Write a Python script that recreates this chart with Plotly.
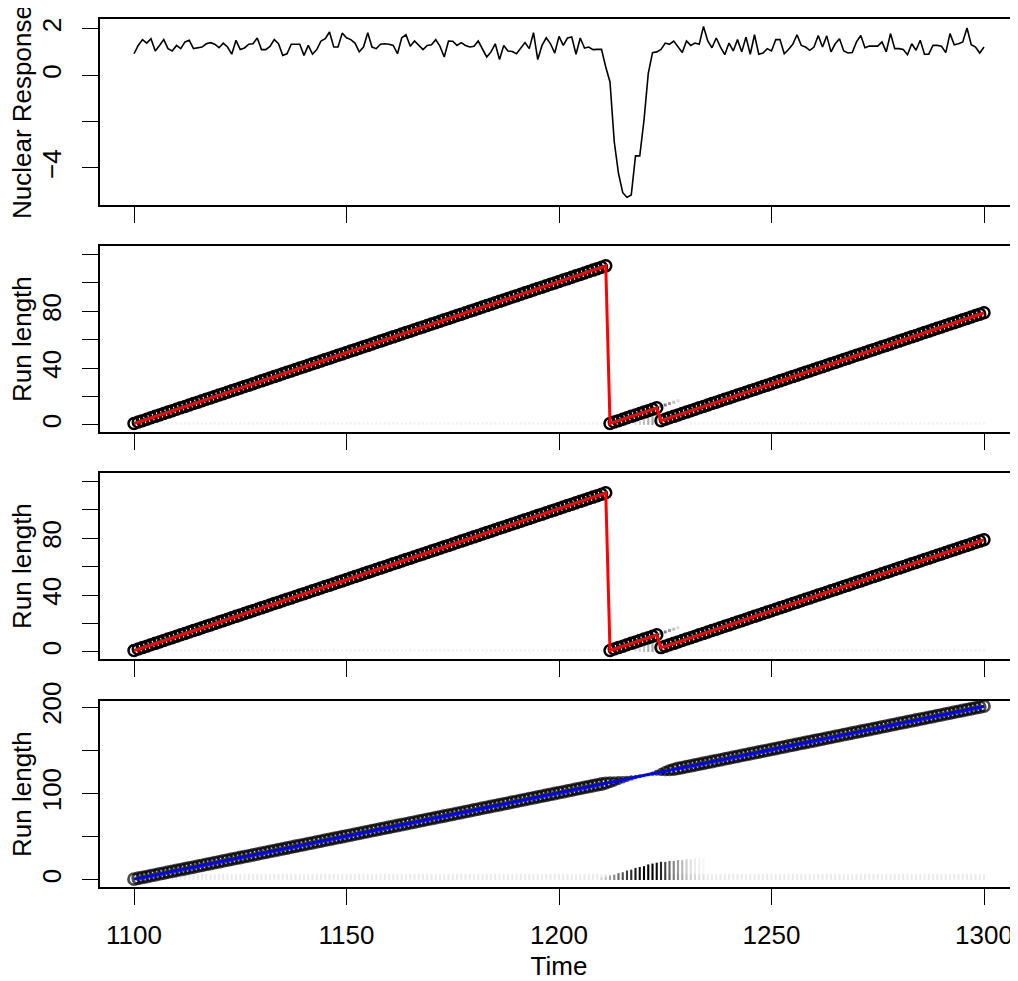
"""
Bayesian online changepoint view: observed series and run-length posterior.
Four stacked panels sharing the same time axis.
"""

import plotly.graph_objects as go

# ==========================================
# 1. DATA
# ==========================================
TIME = list(range(1100, 1301))

NUCLEAR_RESPONSE = [
    0.93, 1.29, 1.54, 1.39, 1.58, 1.05, 1.29, 1.54, 1.15, 1.05,
    1.29, 1.15, 1.44, 1.51, 1.15, 1.18, 1.22, 1.36, 1.41, 1.34,
    1.19, 1.39, 1.22, 0.91, 1.51, 1.11, 1.18, 1.34, 1.36, 1.61,
    1.11, 1.11, 1.25, 1.54, 1.36, 0.86, 0.93, 1.34, 1.34, 1.34,
    0.86, 1.29, 0.91, 1.11, 1.48, 1.58, 1.87, 1.22, 1.22, 1.82,
    1.62, 1.54, 1.39, 1.01, 1.22, 1.84, 1.22, 1.15, 1.34, 1.36,
    1.34, 1.29, 0.93, 1.62, 1.75, 1.25, 1.48, 1.29, 1.11, 1.29,
    1.32, 1.54, 1.25, 0.79, 1.48, 1.47, 1.29, 1.41, 1.29, 1.22,
    1.25, 1.48, 1.11, 0.79, 1.01, 1.36, 0.68, 1.29, 1.05, 1.03,
    0.93,
    1.19, 1.41, 1.15, 1.84, 0.68, 1.29, 1.62, 1.36, 0.96, 1.68,
    1.29, 1.61, 1.65, 0.91, 1.61, 1.18, 1.22, 1.11, 1.12, 1.12,
    0.36, -0.29, -2.87, -4.24, -5.07, -5.27, -5.17, -3.48, -3.48, -1.94,
    0.07, 0.98, 1.01, 1.12, 1.39, 1.34, 1.48, 1.25, 0.98, 1.48,
    1.29, 1.39, 1.34, 2.11, 1.48, 1.19, 1.61, 1.22, 0.89, 1.39,
    1.05, 1.54, 1.01, 1.65, 0.91, 1.75, 0.91, 0.96, 1.15, 1.05,
    1.54, 1.54, 0.93, 1.11, 1.34, 1.75, 1.29, 1.22, 1.08, 1.22,
    1.72, 1.22, 1.70, 1.01, 1.36, 1.58, 1.05, 0.96, 0.98, 1.44,
    1.72, 1.19, 1.26, 1.26, 1.26, 1.44, 1.01, 1.80, 1.15, 1.15,
    1.11, 0.89, 1.36, 1.08, 1.51, 0.91, 0.91, 1.29, 1.29, 1.25,
    0.98, 1.80, 1.32, 1.36, 1.44, 2.04, 1.32, 1.22, 0.96, 1.22,
]

# most probable run length (panels 2 and 3)
RUN_LENGTH_MAP = [
    1, 2, 3, 4, 5, 6, 7, 8, 9, 10, 11, 12, 13, 14, 15, 16, 17, 18, 19, 20,
    21, 22, 23, 24, 25, 26, 27, 28, 29, 30, 31, 32, 33, 34, 35, 36, 37, 38, 39, 40,
    41, 42, 43, 44, 45, 46, 47, 48, 49, 50, 51, 52, 53, 54, 55, 56, 57, 58, 59, 60,
    61, 62, 63, 64, 65, 66, 67, 68, 69, 70, 71, 72, 73, 74, 75, 76, 77, 78, 79, 80,
    81, 82, 83, 84, 85, 86, 87, 88, 89, 90, 91, 92, 93, 94, 95, 96, 97, 98, 99, 100,
    101, 102, 103, 104, 105, 106, 107, 108, 109, 110, 111, 112,
    1, 2, 3, 4, 5, 6, 7, 8, 9, 10, 11, 12,
    3, 4, 5, 6, 7, 8, 9, 10, 11, 12, 13, 14, 15, 16, 17, 18, 19, 20,
    21, 22, 23, 24, 25, 26, 27, 28, 29, 30, 31, 32, 33, 34, 35, 36, 37, 38, 39, 40,
    41, 42, 43, 44, 45, 46, 47, 48, 49, 50, 51, 52, 53, 54, 55, 56, 57, 58, 59, 60,
    61, 62, 63, 64, 65, 66, 67, 68, 69, 70, 71, 72, 73, 74, 75, 76, 77, 78, 79,
]

# run length of the model without changepoint (panel 4)
RUN_LENGTH_FULL = [
    1, 2, 3, 4, 5, 6, 7, 8, 9, 10, 11, 12, 13, 14, 15, 16, 17, 18, 19, 20,
    21, 22, 23, 24, 25, 26, 27, 28, 29, 30, 31, 32, 33, 34, 35, 36, 37, 38, 39, 40,
    41, 42, 43, 44, 45, 46, 47, 48, 49, 50, 51, 52, 53, 54, 55, 56, 57, 58, 59, 60,
    61, 62, 63, 64, 65, 66, 67, 68, 69, 70, 71, 72, 73, 74, 75, 76, 77, 78, 79, 80,
    81, 82, 83, 84, 85, 86, 87, 88, 89, 90, 91, 92, 93, 94, 95, 96, 97, 98, 99, 100,
    101, 102, 103, 104, 105, 106, 107, 108, 109, 110, 111, 112, 113, 114, 115, 116, 117, 118, 119, 120,
    121, 122, 123, 124, 125, 126, 127, 128, 129, 130, 131, 132, 133, 134, 135, 136, 137, 138, 139, 140,
    141, 142, 143, 144, 145, 146, 147, 148, 149, 150, 151, 152, 153, 154, 155, 156, 157, 158, 159, 160,
    161, 162, 163, 164, 165, 166, 167, 168, 169, 170, 171, 172, 173, 174, 175, 176, 177, 178, 179, 180,
    181, 182, 183, 184, 185, 186, 187, 188, 189, 190, 191, 192, 193, 194, 195, 196, 197, 198, 199, 200,
    201,
]

# probability of the long run around the changepoint (sets circle size, panel 4)
DIP_TIME = [1210, 1211, 1212, 1213, 1214, 1215, 1216, 1217, 1218, 1219,
            1220, 1221, 1222, 1223, 1224, 1225, 1226, 1227, 1228]
DIP_PROB = [1.0, 0.95, 0.85, 0.7, 0.55, 0.42, 0.32, 0.22, 0.14, 0.09,
            0.06, 0.08, 0.15, 0.3, 0.5, 0.7, 0.85, 0.95, 1.0]

# posterior mass at short run lengths after the changepoint (panel 4)
SHADE4_TIME = [1210, 1211, 1212, 1213, 1214, 1215, 1216, 1217, 1218, 1219,
               1220, 1221, 1222, 1223, 1224, 1225, 1226, 1227, 1228, 1229,
               1230, 1231, 1232, 1233, 1234]
SHADE4_TOP = [3, 4, 5, 6, 8, 9, 11, 12, 14, 15,
              16, 18, 19, 20, 21, 21, 22, 22, 23, 23,
              24, 24, 25, 25, 25]
SHADE4_ALPHA = [0.12, 0.18, 0.3, 0.42, 0.55, 0.65, 0.75, 0.82, 0.9, 0.95,
                1.0, 1.0, 1.0, 0.95, 0.85, 0.72, 0.6, 0.48, 0.38, 0.28,
                0.2, 0.12, 0.08, 0.06, 0.04]

# faint mass below the short segment (panels 2 and 3)
SHADE2_TIME = [1218, 1219, 1220, 1221, 1222, 1223, 1224]
SHADE2_TOP = [5, 6, 7, 8, 8, 8, 6]
SHADE2_ALPHA = [0.1, 0.15, 0.22, 0.3, 0.35, 0.3, 0.2]

# alternative run that keeps growing after the second drop (panels 2 and 3)
ALT_TIME = [1224, 1225, 1226, 1227, 1228]
ALT_RUN = [13, 14, 15, 16, 17]
ALT_ALPHA = [0.6, 0.5, 0.4, 0.25, 0.15]

# faint background mass at very short run lengths
BG_TOP_MAP = 2
BG_ALPHA_MAP = 0.05
BG_TOP_FULL = 7
BG_ALPHA_FULL = 0.08

X_TICKS = [1100, 1150, 1200, 1250, 1300]
Y_TICKS = [
    [-4, -2, 0, 2],
    [0, 20, 40, 60, 80, 100, 120],
    [0, 20, 40, 60, 80, 100, 120],
    [0, 50, 100, 150, 200],
]
Y_TICKTEXT = [
    ["\u22124", "", "0", "2"],
    ["0", "", "40", "", "80", "", ""],
    ["0", "", "40", "", "80", "", ""],
    ["0", "", "100", "", "200"],
]
Y_TITLES = ["Nuclear Response", "Run length", "Run length", "Run length"]

# ==========================================
# 2. STYLE
# ==========================================
# the page body adds an 8px offset, so the figure is 8px smaller and margins shifted
FONTE = dict(family="Liberation Sans, Arial, Helvetica, sans-serif", size=26, color="black")
DOMINIOS = [(0.7857, 1.0), (0.5242, 0.7385), (0.2627, 0.4770), (0.0, 0.2143)]
Y_RANGES = [[-5.6, 2.43], [-5.0, 126.0], [-5.0, 126.0], [-8.1, 207.0]]
X_RANGE = [1092, 1308]
CIRCLE_SIZE = 11
TITLE_X = -0.085  # paper units, left of the plot area


def grey(alpha):
    return f"rgba(0,0,0,{alpha})"


def add_shading_bars(fig, times, tops, alphas, ax):
    fig.add_trace(go.Bar(
        x=times, y=tops, base=0, width=0.5,
        marker=dict(color=[grey(a) for a in alphas], line_width=0),
        xaxis="x" + ax, yaxis="y" + ax, hoverinfo="skip",
    ))


def add_run_length_panel(fig, run, ax, line_color, sizes, ring_width):
    fig.add_trace(go.Scatter(
        x=TIME, y=run, mode="markers",
        marker=dict(symbol="circle-open", size=sizes, color="black",
                    line=dict(width=ring_width, color="black")),
        xaxis="x" + ax, yaxis="y" + ax,
    ))
    fig.add_trace(go.Scatter(
        x=TIME, y=run, mode="lines", line=dict(color=line_color, width=3),
        xaxis="x" + ax, yaxis="y" + ax,
    ))


# ==========================================
# 3. FIGURE
# ==========================================
fig = go.Figure()

# panel 1: observed series
fig.add_trace(go.Scatter(
    x=TIME, y=NUCLEAR_RESPONSE, mode="lines",
    line=dict(color="black", width=1.6), xaxis="x", yaxis="y",
))

# panels 2 and 3: MAP run length (red)
for ax in ["2", "3"]:
    add_shading_bars(fig, TIME, [BG_TOP_MAP] * len(TIME), [BG_ALPHA_MAP] * len(TIME), ax)
    add_shading_bars(fig, SHADE2_TIME, SHADE2_TOP, SHADE2_ALPHA, ax)
    fig.add_trace(go.Scatter(
        x=ALT_TIME, y=ALT_RUN, mode="markers",
        marker=dict(symbol="square", size=3, color=[grey(a) for a in ALT_ALPHA]),
        xaxis="x" + ax, yaxis="y" + ax,
    ))
    add_run_length_panel(fig, RUN_LENGTH_MAP, ax, "#FF0000", CIRCLE_SIZE, 2.5)

# panel 4: single long run (blue), circles shrink where the run is unlikely
prob_at = dict(zip(DIP_TIME, DIP_PROB))
sizes4 = [CIRCLE_SIZE * prob_at.get(t, 1.0) for t in TIME]
add_shading_bars(fig, TIME, [BG_TOP_FULL] * len(TIME), [BG_ALPHA_FULL] * len(TIME), "4")
add_shading_bars(fig, SHADE4_TIME, SHADE4_TOP, SHADE4_ALPHA, "4")
add_run_length_panel(fig, RUN_LENGTH_FULL, "4", "#0000FF", sizes4, 2.8)

layout = dict(
    width=1010, height=973,
    margin=dict(l=92, r=0, t=11, b=94),
    paper_bgcolor="white", plot_bgcolor="white",
    font=FONTE, showlegend=False, barmode="overlay",
    annotations=[],
)

for i in range(4):
    sfx = "" if i == 0 else str(i + 1)
    layout["xaxis" + sfx] = dict(
        domain=[0, 1], anchor="y" + sfx, range=X_RANGE,
        tickvals=X_TICKS, showticklabels=(i == 3), tickfont=FONTE,
        ticks="outside", ticklen=16, tickwidth=1.3, tickcolor="black",
        showline=True, mirror=True, linecolor="black", linewidth=1.6,
        showgrid=False, zeroline=False, ticklabelstandoff=8, automargin=False,
        title=dict(text="Time", standoff=9, font=FONTE) if i == 3 else None,
    )
    layout["yaxis" + sfx] = dict(
        domain=list(DOMINIOS[i]), anchor="x" + sfx, range=Y_RANGES[i],
        tickvals=Y_TICKS[i], ticktext=Y_TICKTEXT[i], tickangle=-90, tickfont=FONTE,
        ticks="outside", ticklen=16, tickwidth=1.3, tickcolor="black",
        showline=True, mirror=True, linecolor="black", linewidth=1.6,
        showgrid=False, zeroline=False, ticklabelstandoff=11, automargin=False,
    )
    # y titles as rotated text centred on each panel
    layout["annotations"].append(dict(
        text=Y_TITLES[i], textangle=-90, showarrow=False,
        xref="paper", yref="paper", x=TITLE_X, y=sum(DOMINIOS[i]) / 2,
        xanchor="center", yanchor="middle", font=FONTE,
    ))

fig.update_layout(**layout)
fig.write_html("out.html")
